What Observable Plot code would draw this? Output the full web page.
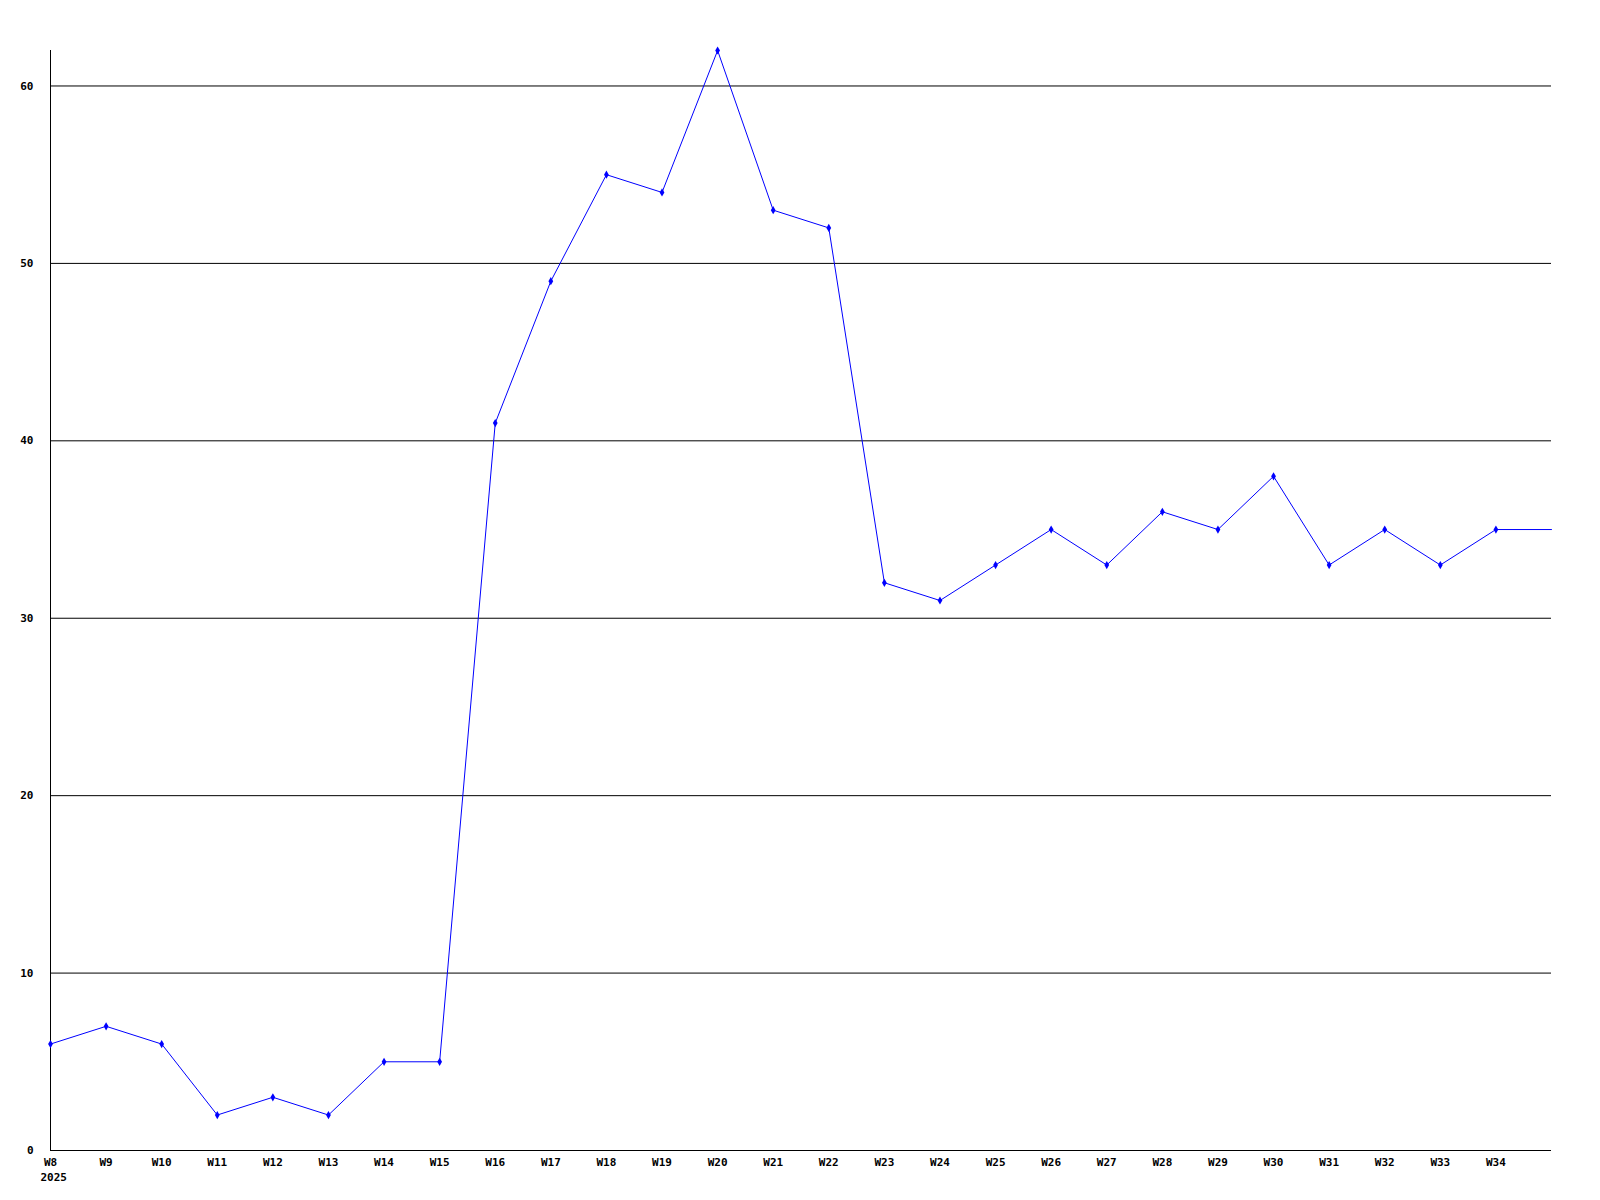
<!DOCTYPE html>
<html>
<head>
<meta charset="utf-8">
<script src="https://cdn.jsdelivr.net/npm/d3@7"></script>
<script src="https://cdn.jsdelivr.net/npm/@observablehq/plot@0.6"></script>
<style>
  html, body { margin: 0; padding: 0; background: #fff; }
  #chart svg { display: block; }
</style>
</head>
<body>
<div id="chart"></div>
<script>
const weeks = ["W8","W9","W10","W11","W12","W13","W14","W15","W16","W17","W18","W19","W20","W21","W22","W23","W24","W25","W26","W27","W28","W29","W30","W31","W32","W33","W34","W35"];
const values = [6,7,6,2,3,2,5,5,41,49,55,54,62,53,52,32,31,33,35,33,36,35,38,33,35,33,35,35];
const xTickLabels = weeks.slice(0, -1);
const yTicks = [0,10,20,30,40,50,60];
const gridTicks = [10,20,30,40,50,60];
const yearLabel = "2025";

const data = weeks.map((w, i) => ({idx: i, week: w, value: values[i]}));
const dotData = data.slice(0, -1);
const tickIdx = xTickLabels.map((w, i) => i);
const font = "'DejaVu Sans Mono', monospace";

const chart = Plot.plot({
  width: 1600,
  height: 1200,
  marginLeft: 50,
  marginRight: 49,
  marginTop: 50,
  marginBottom: 50,
  style: {fontFamily: font, fontSize: "11px", fontWeight: "bold", background: "#fff", color: "#000"},
  x: {type: "linear", domain: [0, weeks.length - 1]},
  y: {domain: [0, 62]},
  marks: [
    Plot.gridY(gridTicks, {stroke: "#000", strokeOpacity: 1, strokeWidth: 1}),
    Plot.ruleX([0], {stroke: "#000", strokeWidth: 1}),
    Plot.ruleY([0], {stroke: "#000", strokeWidth: 1}),
    Plot.axisY({ticks: yTicks, tickSize: 0, tickPadding: 17, label: null, fontWeight: "bold"}),
    Plot.axisX({ticks: tickIdx, tickFormat: i => weeks[i], tickSize: 0, tickPadding: 8, label: null, fontWeight: "bold"}),
    Plot.text([yearLabel], {x: () => 0, frameAnchor: "bottom", dy: 30, text: d => d, fontWeight: "bold", textAnchor: "start", dx: -10}),
    Plot.line(data, {x: "idx", y: "value", stroke: "#0000ff", strokeWidth: 1}),
    Plot.dot(dotData, {x: "idx", y: "value", r: 2.5, fill: "#0000ff", symbol: "diamond"})
  ]
});
document.getElementById("chart").appendChild(chart);
</script>
</body>
</html>
